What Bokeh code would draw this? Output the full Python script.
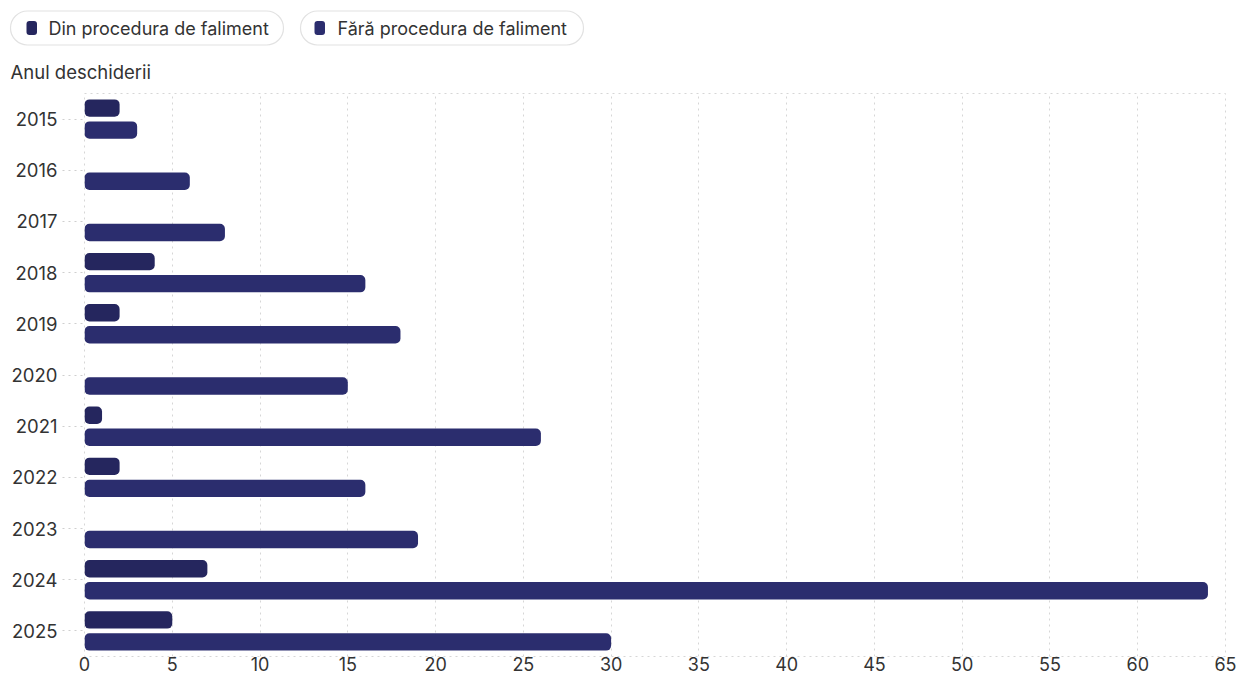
from bokeh.plotting import figure
from bokeh.models import ColumnDataSource, FactorRange, Range1d, FixedTicker
from bokeh.transform import dodge
from bokeh.layouts import column
from bokeh.core.properties import value
from bokeh.embed import file_html
from bokeh.resources import INLINE

# ---- data ----
years = ["2015", "2016", "2017", "2018", "2019", "2020", "2021", "2022", "2023", "2024", "2025"]
din_faliment = [2, 0, 0, 4, 2, 0, 1, 2, 0, 7, 5]
fara_faliment = [3, 6, 8, 16, 18, 15, 26, 16, 19, 64, 30]
series_names = ["Din procedura de faliment", "Fără procedura de faliment"]
series_colors = ["#25265e", "#2b2d6e"]
x_ticks = [0, 5, 10, 15, 20, 25, 30, 35, 40, 45, 50, 55, 60, 65]
y_title = "Anul deschiderii"

FONT = "Inter"
TEXT_COLOR = "#333333"

W = 1236
LH = 85          # header (legend + y title) height
MH = 588         # main chart height
BL, BR, BT, BB = 84, 11, 8, 0

# ---- header figure: pixel coordinates ----
leg = figure(width=W, height=LH, x_range=Range1d(0, W), y_range=Range1d(LH, 0),
             output_backend="svg", toolbar_location=None, min_border=0)
leg.frame_align = False
leg.axis.visible = False
leg.grid.visible = False
leg.outline_line_color = None

pill_left = [10, 300]
pill_right = [283, 583]
marker_left = [26, 314]
text_left = [48, 337]
for i, name in enumerate(series_names):
    leg.hbar(y=27.5, left=pill_left[i], right=pill_right[i], height=34,
             fill_color="white", line_color="#e2e2e2", line_width=1.2, border_radius=17)
    leg.hbar(y=27.5, left=marker_left[i], right=marker_left[i] + 10.5, height=14,
             fill_color=series_colors[i], line_color=None, border_radius=3)
    leg.text(x=[text_left[i]], y=[28], text=[name], text_baseline="middle",
             text_font=value(FONT), text_font_size="18px", text_color=TEXT_COLOR)

leg.text(x=[10], y=[71], text=[y_title], text_baseline="middle",
         text_font=value(FONT), text_font_size="18.5px", text_color=TEXT_COLOR)

# ---- main chart ----
p = figure(y_range=FactorRange(factors=years[::-1], range_padding=0),
           x_range=Range1d(0, 65), width=W, height=MH,
           output_backend="svg", toolbar_location=None,
           min_border_left=BL, min_border_right=BR, min_border_top=BT, min_border_bottom=BB)
p.frame_align = False

din_src = ColumnDataSource(dict(
    y=[yr for yr, v in zip(years, din_faliment) if v > 0],
    x=[v for v in din_faliment if v > 0]))
fara_src = ColumnDataSource(dict(
    y=[yr for yr, v in zip(years, fara_faliment) if v > 0],
    x=[v for v in fara_faliment if v > 0]))

p.hbar(y=dodge("y", 0.215, range=p.y_range), left=0, right="x", height=0.34,
       source=din_src, fill_color=series_colors[0], line_color=None, border_radius=5)
p.hbar(y=dodge("y", -0.215, range=p.y_range), left=0, right="x", height=0.34,
       source=fara_src, fill_color=series_colors[1], line_color=None, border_radius=5)

p.xgrid.grid_line_color = "#d6d6d6"
p.xgrid.grid_line_dash = "2 4"
p.ygrid.grid_line_color = None
p.outline_line_color = "#d6d6d6"
p.outline_line_dash = "2 4"

p.xaxis.ticker = FixedTicker(ticks=x_ticks)
p.xaxis.axis_line_color = None
p.xaxis.major_tick_line_color = None
p.xaxis.minor_tick_line_color = None
p.xaxis.major_tick_out = 0
p.xaxis.major_tick_in = 0
p.xaxis.major_label_standoff = 0
p.xaxis.major_label_text_font = FONT
p.xaxis.major_label_text_font_size = "18px"
p.xaxis.major_label_text_color = TEXT_COLOR

p.yaxis.axis_line_color = None
p.yaxis.major_tick_in = 0
p.yaxis.major_tick_out = 22
p.yaxis.major_tick_line_color = "#cfcfcf"
p.yaxis.major_tick_line_dash = "2 4"
p.yaxis.major_label_standoff = 5
p.yaxis.major_label_text_font = FONT
p.yaxis.major_label_text_font_size = "18.5px"
p.yaxis.major_label_text_color = TEXT_COLOR

layout = column(leg, p, spacing=0)
open("out.html", "w").write(file_html(layout, INLINE))
